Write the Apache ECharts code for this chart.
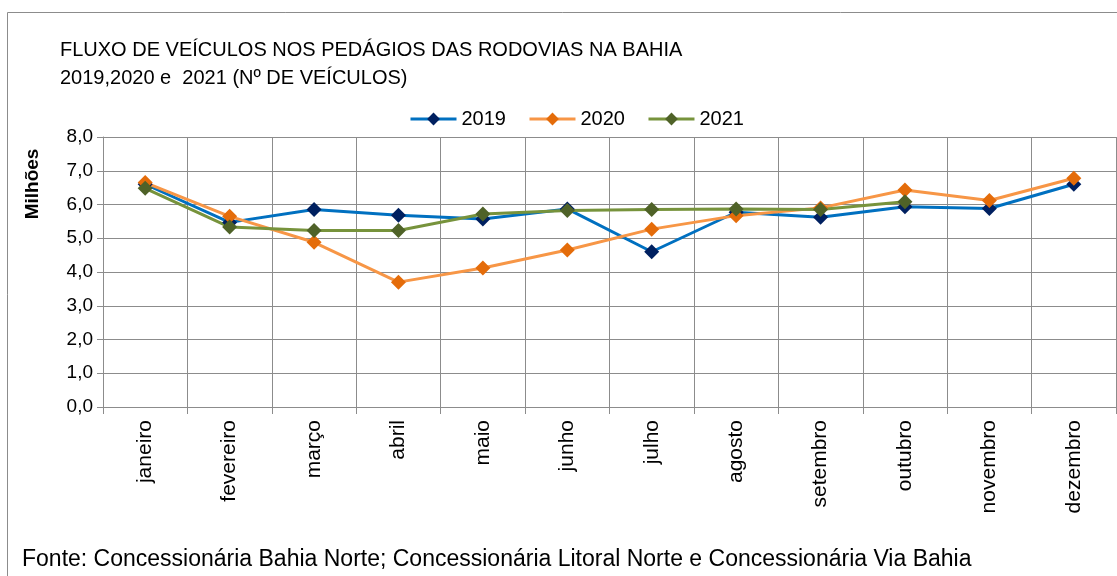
<!DOCTYPE html>
<html>
<head>
<meta charset="utf-8">
<style>
	html, body { margin: 0; padding: 0; background: #fff; }
	#chart { width: 1117px; height: 576px; }
</style>
</head>
<body>
<div id="chart"></div>
<script src="https://cdn.jsdelivr.net/npm/echarts@6/dist/echarts.min.js"></script>
<script>
	// dados (milhões de veículos)
	var meses = ['janeiro', 'fevereiro', 'março', 'abril', 'maio', 'junho', 'julho', 'agosto', 'setembro', 'outubro', 'novembro', 'dezembro'];
	var anos = ['2019', '2020', '2021'];
	var v2019 = [6.6, 5.47, 5.85, 5.68, 5.57, 5.87, 4.6, 5.77, 5.62, 5.93, 5.88, 6.6];
	var v2020 = [6.65, 5.65, 4.88, 3.7, 4.12, 4.65, 5.27, 5.67, 5.9, 6.43, 6.12, 6.78];
	var v2021 = [6.48, 5.33, 5.23, 5.23, 5.72, 5.82, 5.85, 5.87, 5.85, 6.08];

	var fonte = '"Liberation Sans", sans-serif';
	var grade = '#8c8c8c';

	function serie(nome, valores, corLinha, corMarca) {
		return {
			name: nome,
			type: 'line',
			data: valores,
			symbol: 'diamond',
			symbolSize: 15,
			lineStyle: { color: corLinha, width: 3 },
			itemStyle: { color: corMarca },
			animation: false
		};
	}

	var myChart = echarts.init(document.getElementById('chart'));
	var option = {
		backgroundColor: '#fff',
		textStyle: { fontFamily: fonte },
		title: {
			text: 'FLUXO DE VEÍCULOS NOS PEDÁGIOS DAS RODOVIAS NA BAHIA\n2019,2020 e  2021 (Nº DE VEÍCULOS)',
			left: 55,
			top: 31,
			textStyle: { fontFamily: fonte, fontSize: 20, fontWeight: 'normal', color: '#000', lineHeight: 28 }
		},
		legend: {
			data: anos,
			left: 404,
			top: 104,
			itemWidth: 46,
			itemHeight: 16,
			itemGap: 22,
			lineStyle: { width: 3 },
			textStyle: { fontFamily: fonte, fontSize: 20, color: '#000' }
		},
		grid: { left: 103, right: 1, top: 137, bottom: 169 },
		xAxis: {
			type: 'category',
			data: meses,
			boundaryGap: true,
			axisLine: { lineStyle: { color: grade, width: 1 } },
			axisTick: { show: true, length: 7, lineStyle: { color: grade } },
			splitLine: { show: true, lineStyle: { color: grade, width: 1 } },
			axisLabel: { rotate: 90, margin: 13, fontFamily: fonte, fontSize: 21, color: '#000' }
		},
		yAxis: {
			type: 'value',
			min: 0,
			max: 8,
			interval: 1,
			axisLine: { show: true, lineStyle: { color: grade } },
			axisTick: { show: true, length: 6, lineStyle: { color: grade } },
			splitLine: { lineStyle: { color: grade, width: 1 } },
			axisLabel: {
				margin: 10,
				fontFamily: fonte,
				fontSize: 19,
				color: '#000',
				formatter: function (v) { return v.toFixed(1).replace('.', ','); }
			}
		},
		graphic: [
			{
				type: 'rect',
				shape: { x: 7.5, y: 12.5, width: 1200, height: 700 },
				style: { fill: 'none', stroke: '#8c8c8c', lineWidth: 1 },
				silent: true
			},
			{
				type: 'text',
				x: 33,
				y: 184,
				rotation: Math.PI / 2,
				style: {
					text: 'Milhões',
					fontFamily: fonte,
					fontWeight: 'bold',
					fontSize: 19,
					fill: '#000',
					textAlign: 'center',
					textVerticalAlign: 'middle'
				}
			},
			{
				type: 'text',
				left: 22,
				top: 548,
				style: {
					text: 'Fonte: Concessionária Bahia Norte; Concessionária Litoral Norte e Concessionária Via Bahia',
					fontFamily: fonte,
					fontSize: 23,
					fill: '#000'
				}
			}
		],
		series: [
			serie('2019', v2019, '#0070C0', '#002060'),
			serie('2020', v2020, '#F79646', '#E46C0A'),
			serie('2021', v2021, '#77933C', '#4F6228')
		]
	};
	myChart.setOption(option);
</script>
</body>
</html>
